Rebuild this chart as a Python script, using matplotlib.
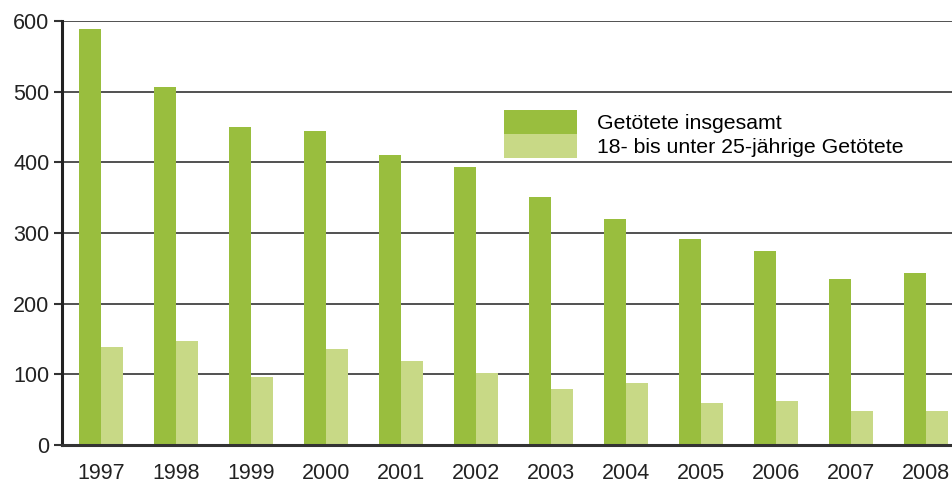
import numpy as np
import matplotlib
matplotlib.use("Agg")
import matplotlib.pyplot as plt
from matplotlib.patches import Patch

##### Data #####
years = ["1997", "1998", "1999", "2000", "2001", "2002",
         "2003", "2004", "2005", "2006", "2007", "2008"]
getoetete_insgesamt = [589, 507, 450, 444, 411, 394, 351, 320, 292, 275, 235, 244]
getoetete_18_25 = [139, 147, 96, 136, 119, 102, 79, 88, 59, 62, 48, 48]
y_ticks = [0, 100, 200, 300, 400, 500, 600]

labels = ["Getötete insgesamt", "18- bis unter 25-jährige Getötete"]
dark_green = "#99be3e"
light_green = "#c8d986"

plt.rcParams['font.family'] = ['Liberation Sans', 'DejaVu Sans']

fig = plt.figure(figsize=(9.52, 4.86), dpi=100)
ax = fig.add_axes([62 / 952, 1 - 445 / 486, 890 / 952, 424 / 486])

x = np.arange(len(years))
w = 0.295
ax.bar(x - w / 2, getoetete_insgesamt, width=w, color=dark_green, zorder=3)
ax.bar(x + w / 2, getoetete_18_25, width=w, color=light_green, zorder=3)

ax.set_xlim(-0.52, 11.35)
ax.set_ylim(0, 600)
ax.set_yticks(y_ticks)
ax.set_xticks(x)
ax.set_xticklabels(years)

# horizontal grid lines
ax.yaxis.grid(True, color="#222222", linewidth=1.1, zorder=1)
ax.set_axisbelow(True)

for side in ["top", "right"]:
    ax.spines[side].set_visible(False)
ax.spines["left"].set_linewidth(2.2)
ax.spines["left"].set_color("#222222")
ax.spines["bottom"].set_linewidth(2.2)
ax.spines["bottom"].set_color("#333333")
ax.spines["bottom"].set_zorder(4)

ax.tick_params(axis="y", direction="out", length=6, width=1.5, color="#333333",
               labelsize=15.5, labelcolor="#222222", pad=3)
ax.tick_params(axis="x", length=0, labelsize=15.5, labelcolor="#222222", pad=13)

handles = [Patch(facecolor=dark_green, edgecolor="none"),
           Patch(facecolor=light_green, edgecolor="none")]
ax.legend(handles, labels, loc="upper left", bbox_to_anchor=(0.497, 0.79),
          frameon=False, fontsize=15.3, handlelength=3.4, handleheight=1.35,
          labelspacing=0.0, handletextpad=0.95, borderpad=0, borderaxespad=0)

fig.savefig("out.png", dpi=100)
